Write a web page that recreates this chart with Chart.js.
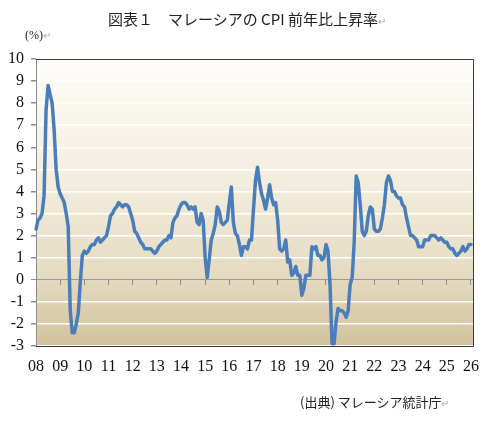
<!DOCTYPE html>
<html>
<head>
<meta charset="utf-8">
<script src="https://cdn.jsdelivr.net/npm/chart.js@4.4.1/dist/chart.umd.min.js"></script>
<style>
  html, body { margin: 0; padding: 0; background: #fff; }
  #wrap { position: relative; width: 487px; height: 425px; overflow: hidden; }
  #cpiChart { position: absolute; left: 0; top: 0; }
  .txt { position: absolute; white-space: nowrap; font-family: "Noto Sans CJK JP", sans-serif; color: #222; }
  .mark { color: #aaa; font-size: 10px; }
  #title { left: 108px; top: 9px; font-size: 15px; line-height: 20px; }
  #unit { left: 25px; top: 27px; font-size: 12px; line-height: 16px; font-family: "Liberation Serif", serif; }
  #source { left: 300px; top: 393px; font-size: 13px; line-height: 18px; }
</style>
</head>
<body>
<div id="wrap">
  <canvas id="cpiChart" width="487" height="425"></canvas>
  <div class="txt" id="title">図表１　マレーシアの CPI 前年比上昇率<span class="mark">↵</span></div>
  <div class="txt" id="unit">(%)<span class="mark">↵</span></div>
  <div class="txt" id="source">(出典) マレーシア統計庁<span class="mark">↵</span></div>
</div>
<script>
// 年ラベル（横軸）
const years = ['08', '09', '10', '11', '12', '13', '14', '15', '16', '17',
               '18', '19', '20', '21', '22', '23', '24', '25', '26'];

// 月次 CPI 前年比 (%)
const cpi2008 = [2.3, 2.7, 2.8, 3.0, 3.8, 7.7, 8.8, 8.4, 8.0, 6.8, 5.0, 4.2];
const cpi2009 = [3.9, 3.7, 3.5, 3.0, 2.4, -1.4, -2.4, -2.4, -2.0, -1.5, -0.1, 1.1];
const cpi2010 = [1.3, 1.2, 1.3, 1.5, 1.6, 1.6, 1.8, 1.9, 1.7, 1.8, 1.9, 2.0];
const cpi2011 = [2.4, 2.9, 3.0, 3.2, 3.3, 3.5, 3.4, 3.3, 3.4, 3.4, 3.3, 3.0];
const cpi2012 = [2.7, 2.2, 2.1, 1.9, 1.7, 1.6, 1.4, 1.4, 1.4, 1.4, 1.3, 1.2];
const cpi2013 = [1.3, 1.5, 1.6, 1.7, 1.8, 1.8, 2.0, 1.9, 2.6, 2.8, 2.9, 3.2];
const cpi2014 = [3.4, 3.5, 3.5, 3.4, 3.2, 3.3, 3.2, 3.3, 2.6, 2.5, 3.0, 2.7];
const cpi2015 = [1.0, 0.1, 0.9, 1.8, 2.1, 2.5, 3.3, 3.1, 2.6, 2.5, 2.6, 2.7];
const cpi2016 = [3.5, 4.2, 2.6, 2.1, 2.0, 1.6, 1.1, 1.5, 1.5, 1.4, 1.8, 1.8];
const cpi2017 = [3.2, 4.5, 5.1, 4.4, 3.9, 3.6, 3.2, 3.7, 4.3, 3.7, 3.4, 3.5];
const cpi2018 = [2.7, 1.4, 1.3, 1.4, 1.8, 0.8, 0.9, 0.2, 0.3, 0.6, 0.2, 0.2];
const cpi2019 = [-0.7, -0.4, 0.2, 0.2, 0.2, 1.5, 1.4, 1.5, 1.1, 1.1, 0.9, 1.0];
const cpi2020 = [1.6, 1.3, -0.2, -2.9, -2.9, -1.9, -1.3, -1.4, -1.4, -1.5, -1.7, -1.4];
const cpi2021 = [-0.2, 0.1, 1.7, 4.7, 4.4, 3.4, 2.2, 2.0, 2.2, 2.9, 3.3, 3.2];
const cpi2022 = [2.3, 2.2, 2.2, 2.3, 2.8, 3.4, 4.4, 4.7, 4.5, 4.0, 4.0, 3.8];
const cpi2023 = [3.7, 3.7, 3.4, 3.3, 2.8, 2.4, 2.0, 2.0, 1.9, 1.8, 1.5, 1.5];
const cpi2024 = [1.5, 1.8, 1.8, 1.8, 2.0, 2.0, 2.0, 1.9, 1.8, 1.9, 1.8, 1.7];
const cpi2025 = [1.7, 1.5, 1.4, 1.4, 1.2, 1.1, 1.2, 1.3, 1.5, 1.3, 1.4, 1.6];
const cpi2026 = [1.6];

const yearlyData = [cpi2008, cpi2009, cpi2010, cpi2011, cpi2012, cpi2013, cpi2014, cpi2015, cpi2016,
                    cpi2017, cpi2018, cpi2019, cpi2020, cpi2021, cpi2022, cpi2023, cpi2024, cpi2025, cpi2026];

// 月ラベル（26年は2月まで軸を伸ばす）
const labels = [];
years.forEach(function (y) {
    const n = (y === '26') ? 2 : 12;
    for (let m = 1; m <= n; m++) labels.push(y + '/' + m);
});
const values = [].concat(...yearlyData);

// プロット領域の背景グラデーションと枠線
const plotFrame = {
    id: 'plotFrame',
    beforeDraw(chart) {
        const a = chart.chartArea, ctx = chart.ctx;
        const g = ctx.createLinearGradient(0, a.top, 0, a.bottom);
        g.addColorStop(0, '#fefdfa');
        g.addColorStop(0.45, '#f2ecdc');
        g.addColorStop(0.75, '#e5dbc1');
        g.addColorStop(1, '#d2c29e');
        ctx.save();
        ctx.fillStyle = g;
        ctx.fillRect(a.left, a.top, a.right - a.left, a.bottom - a.top);
        ctx.restore();
    },
    afterDraw(chart) {
        const a = chart.chartArea, ctx = chart.ctx;
        ctx.save();
        ctx.strokeStyle = '#3c3c3c';
        ctx.lineWidth = 1;
        ctx.beginPath();
        ctx.moveTo(a.left, a.top + 0.5);
        ctx.lineTo(a.right + 0.5, a.top + 0.5);
        ctx.lineTo(a.right + 0.5, a.bottom + 0.5);
        ctx.lineTo(a.left, a.bottom + 0.5);
        ctx.stroke();
        ctx.restore();
    }
};

new Chart(document.getElementById('cpiChart'), {
    type: 'line',
    data: {
        labels: labels,
        datasets: [{
            label: 'CPI',
            data: values,
            borderColor: '#4a7ebb',
            borderWidth: 3.5,
            pointRadius: 0,
            tension: 0,
            borderJoinStyle: 'round',
            borderCapStyle: 'round',
            fill: false
        }]
    },
    options: {
        responsive: false,
        animation: false,
        devicePixelRatio: 1,
        layout: { padding: { top: 59, right: 14, left: 0, bottom: 0 } },
        plugins: {
            legend: { display: false },
            title: { display: false },
            tooltip: { enabled: false }
        },
        scales: {
            x: {
                type: 'category',
                position: 'bottom',
                afterFit: function (scale) { scale.height = 79; },
                grid: { display: false, drawTicks: false },
                border: { display: false },
                ticks: {
                    autoSkip: false,
                    maxRotation: 0,
                    minRotation: 0,
                    padding: 11,
                    color: '#111',
                    font: { family: 'Liberation Serif', size: 16 },
                    callback: function (value) {
                        const lab = this.getLabelForValue(value);
                        return lab.endsWith('/1') ? lab.split('/')[0] : '';
                    }
                }
            },
            x2: {
                type: 'category',
                position: { y: 0 },
                grid: {
                    drawOnChartArea: false,
                    drawTicks: true,
                    tickLength: 5,
                    color: function (ctx) { return ctx.index % 12 === 0 ? '#8c8c8c' : 'rgba(0,0,0,0)'; }
                },
                border: { display: false },
                ticks: { display: false, autoSkip: false }
            },
            y: {
                min: -3,
                max: 10,
                afterFit: function (scale) { scale.width = 36; },
                grid: {
                    color: function (ctx) { return ctx.tick && ctx.tick.value === 0 ? '#9a9a9a' : '#ffffff'; },
                    lineWidth: function (ctx) { return ctx.tick && ctx.tick.value === 0 ? 1 : 1.5; },
                    tickColor: '#8c8c8c',
                    tickLength: 5
                },
                border: { color: '#8c8c8c', width: 1 },
                ticks: {
                    stepSize: 1,
                    autoSkip: false,
                    padding: 7,
                    color: '#111',
                    font: { family: 'Liberation Serif', size: 16 }
                }
            }
        }
    },
    plugins: [plotFrame]
});
</script>
</body>
</html>
